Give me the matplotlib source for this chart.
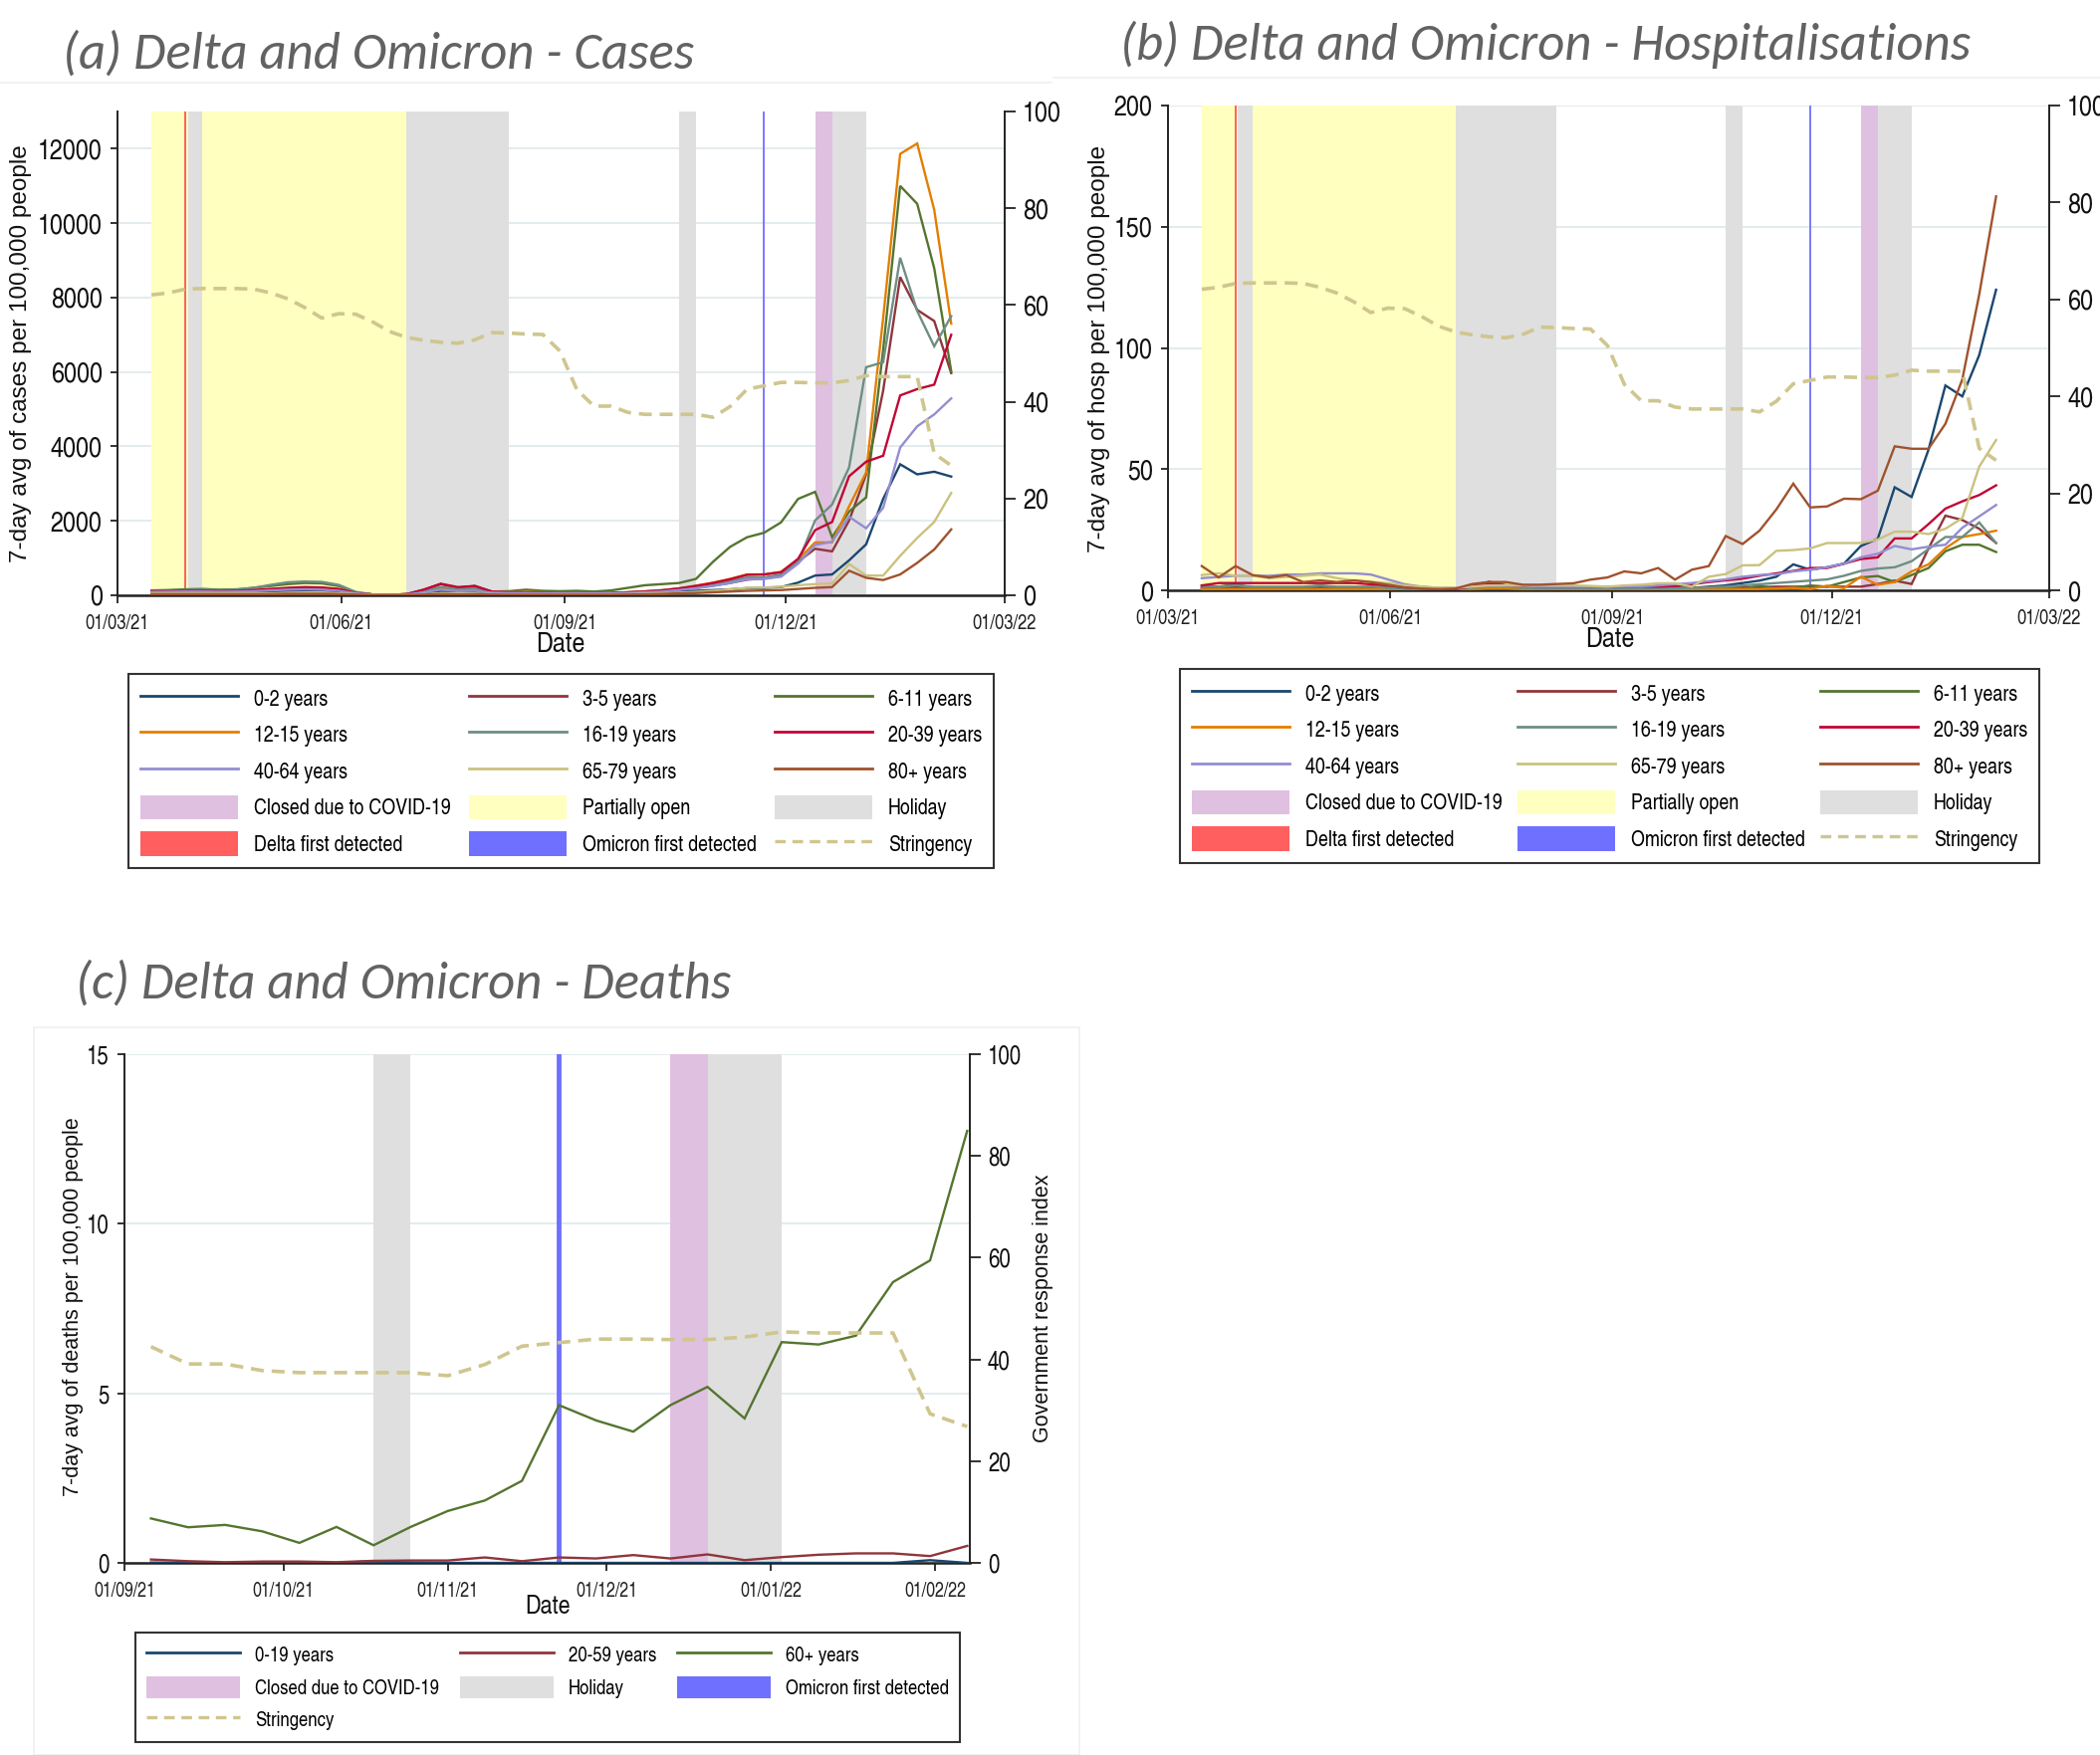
import numpy as np
import pandas as pd
import matplotlib
matplotlib.use('Agg')
import matplotlib.pyplot as plt
import matplotlib.dates as mdates
from matplotlib.patches import Patch, Rectangle
from matplotlib.lines import Line2D

W, H, DPI = 2109, 1763, 100
NARROW = ['TeX Gyre Heros Cn', 'Liberation Sans', 'DejaVu Sans']
REG = ['Liberation Sans', 'DejaVu Sans']
TITLE_FONT = ['Carlito', 'Lato', 'DejaVu Sans']
plt.rcParams['font.family'] = NARROW

# ---------------- data ----------------
dates = pd.date_range('2021-03-15', periods=48, freq='7D')   # weekly (Mondays)
death_dates = dates[25:]                                       # from 06/09/21

case_labels = ['0-2 years', '3-5 years', '6-11 years', '12-15 years', '16-19 years',
               '20-39 years', '40-64 years', '65-79 years', '80+ years']
case_colors = ['#1a476f', '#90353b', '#55752f', '#e37e00', '#6e8e84',
               '#c10534', '#938dd2', '#cac27e', '#a0522d']

cases_0_2 = [90,95,100,95,90,95,100,110,120,130,130,110,50,20,10,20,60,120,110,100,60,50,50,45,
             40,40,40,40,50,60,80,100,120,140,160,190,200,220,340,530,560,940,1370,2590,3520,3250,3320,3190]
cases_3_5 = [110,115,120,120,115,120,130,150,180,200,190,150,60,20,10,30,150,300,200,250,100,80,70,60,
             50,50,50,50,70,90,110,150,200,260,330,420,450,520,900,1250,1180,2010,3250,5500,8550,7670,7370,5970]
cases_6_11 = [130,140,160,170,150,160,200,250,300,330,320,250,80,20,10,30,120,200,160,170,100,110,150,120,
              110,120,100,130,200,270,300,330,440,900,1300,1560,1680,1960,2590,2780,1560,2250,2630,6600,11000,10520,8790,6020]
cases_12_15 = [100,105,110,110,105,110,130,160,190,210,200,160,60,20,10,30,100,200,150,160,90,80,90,80,
               70,60,60,60,80,110,140,190,260,340,440,560,560,630,960,1420,1420,2390,3300,7450,11860,12140,10360,7300]
cases_16_19 = [120,125,140,150,140,150,200,280,350,370,360,280,90,20,10,30,120,220,170,190,90,80,80,70,
               60,60,60,60,80,100,130,180,240,300,380,480,480,560,900,2010,2440,3440,6130,6260,9070,7640,6690,7500]
cases_20_39 = [110,115,120,120,115,120,140,170,200,220,210,170,60,20,10,30,150,310,220,250,100,80,80,70,
               60,60,60,60,80,100,130,180,250,330,430,550,560,620,980,1750,1970,3200,3590,3750,5370,5540,5660,7000]
cases_40_64 = [90,95,100,100,95,100,110,130,150,160,150,120,50,15,10,20,80,150,110,120,70,60,60,55,
               50,50,50,50,60,80,100,140,190,250,330,430,440,500,850,1350,1440,2110,1800,2350,3970,4540,4860,5290]
cases_65_79 = [50,50,50,50,50,50,50,50,60,60,60,50,30,10,5,10,30,50,40,40,30,25,25,25,
               25,25,25,25,30,40,50,70,90,120,160,200,210,230,270,300,320,840,530,530,1060,1540,1970,2750]
cases_80 = [30,30,30,30,30,30,30,30,40,40,40,30,20,5,5,10,20,30,25,25,20,15,15,15,
            15,15,15,15,20,25,35,50,60,80,100,120,130,140,170,200,220,660,470,410,560,870,1230,1770]

hosp_0_2 = [1,1,1.5,1,1,1,1,1.5,1,1,1,0.5,0.5,0.3,0.3,0.5,1,1.5,1,1,0.5,0.5,0.5,0.5,
            0.5,0.5,0.5,0.8,1,1,1.5,2,3,4,5.6,10.7,8.5,9.5,11,18.3,21.3,42.5,38.5,58,84.5,80,97,124]
hosp_3_5 = [1,1,1,1,1,1,1,1,1,1,1,1,0.5,0.3,0.3,0.5,2,3.5,2,2,1,1,1,1,
            1,1,1,1,1,1,1,1,1.2,1.3,1.5,1.5,1.5,1.5,1.5,1.5,2.6,4,2.6,17.3,30.8,29,25.4,19.5]
hosp_6_11 = [2,1.5,2.5,1,1,1,1,2,1,1,1.5,1,0.5,0.3,0.3,0.5,0.5,1,1,0.5,0.5,0.5,0.5,0.5,
             0.5,0.5,0.5,0.5,0.5,1,0.5,1,0.5,2,0.5,1,2,1.5,3.4,5.3,5.9,3.4,6.3,9.2,16.1,18.8,18.8,15.8]
hosp_12_15 = [0.5,0.5,0.5,0.5,0.5,0.5,0.5,0.5,0.5,0.5,0.5,0.5,0.3,0.2,0.2,0.3,0.5,0.8,0.8,0.5,0.5,0.5,0.5,0.5,
              0.5,0.5,0.5,0.5,0.3,0.5,0.5,0.5,0.5,0.5,0.8,1,0.5,1.9,0.9,5.6,2.3,3.4,7.8,10.7,17.3,22,23.2,24.6]
hosp_16_19 = [1.5,1.5,2,1.5,1.5,1.5,1.5,2,1.5,1.5,1.5,1,0.5,0.3,0.3,0.5,1,1.5,1.5,1,0.8,0.8,0.8,0.8,
              0.8,0.8,0.8,0.8,0.8,1,1.2,1.5,2,2.5,3,3.5,4,4.5,6,8,9,9.5,12,17,22,22,28,19.5]
hosp_20_39 = [2,3,3,3,3,3,3,3,3,3,2.5,2,1.2,0.8,0.5,0.5,1.5,2.5,2,2,1.5,1.5,1.5,1.5,
              1.5,1.5,1.5,1.5,1.8,2.5,3.4,4.1,4.8,6,7,8,9.2,9.2,11,12.9,13.6,21.4,21.4,27.3,33.7,36.7,39.3,43.3]
hosp_40_64 = [5,5.5,6,6,6,6.5,6.5,7,7,7,6.5,4.5,2.5,1.5,1,1,1.5,2,2,2,1.5,1.5,1.5,1.5,
              1.5,1.5,1.5,2,2.5,3,3.8,4.5,5.6,6.3,6.6,7.8,8.5,9.5,11,13.6,15.1,18.3,16.9,18,18.8,25.8,30.5,35.2]
hosp_65_79 = [6.3,7,6,6,5,5.5,6,6.5,5,4,3.5,3,2,1.5,1,1,1.5,2,2,2,2,2,2,1.8,
              1.5,2,2.3,2.9,2.9,1.5,5.6,6.7,10.3,10.4,16.3,16.6,17.3,19.5,19.5,19.5,21,24.2,24.2,23.2,25.4,29.8,51,62]
hosp_80 = [10,5.3,10,6.3,5.3,6.3,3.4,4.1,3.4,4.1,3.4,2.3,1.2,0.7,0.5,0.7,2.6,3.4,3.4,2.3,2.3,2.6,2.9,4.4,
           5.3,7.8,7,9.2,4.4,8.5,10,22.4,19.1,24.6,33.4,44,34.2,34.6,37.8,37.6,41.1,59.4,58.4,58.4,68.7,87,122,162.5]

death_labels = ['0-19 years', '20-59 years', '60+ years']
death_colors = ['#1a476f', '#90353b', '#55752f']
deaths_0_19 = [0.01,0.0,0.0,0.01,0.0,0.0,0.05,0.01,0.0,0.0,0.0,0.0,0.0,0.0,0.0,0.0,0.0,0.0,0.0,0.0,0.0,0.08,0.0]
deaths_20_59 = [0.10,0.05,0.02,0.04,0.04,0.02,0.06,0.07,0.07,0.16,0.05,0.16,0.13,0.23,0.13,0.25,0.08,0.17,0.24,0.28,0.28,0.20,0.50]
deaths_60 = [1.31,1.05,1.12,0.93,0.59,1.06,0.52,1.06,1.53,1.84,2.42,4.65,4.2,3.87,4.65,5.19,4.26,6.51,6.44,6.7,8.28,8.92,12.74]

stringency = [62.1,62.5,63.3,63.4,63.4,63.4,63.3,62.5,61.3,59.5,57.3,58.2,58.1,56.5,54.5,53.3,52.7,52.3,52.1,52.8,
              54.3,54.2,54.0,53.9,50.5,42.5,39.1,39.1,37.8,37.4,37.4,37.4,37.4,36.8,39.0,42.6,43.3,44.0,44.0,
              43.9,43.9,44.4,45.4,45.2,45.2,45.2,29.3,26.8]

partial_open = ('2021-03-15', '2021-06-28')
holidays = [('2021-03-30', '2021-04-05'), ('2021-06-28', '2021-08-09'),
            ('2021-10-18', '2021-10-25'), ('2021-12-20', '2022-01-03')]
closed = ('2021-12-13', '2021-12-20')
delta_date = '2021-03-29'
omicron_date = '2021-11-22'

C_YELLOW, C_GRAY, C_PURPLE = '#ffffc0', '#dfdfdf', '#e0c0e0'
C_DELTA, C_OMI, C_STR = '#ff5f5f', '#7070ff', '#cfc68f'
AX_C = '#222222'

fig = plt.figure(figsize=(W / DPI, H / DPI), dpi=DPI)
fig.patch.set_facecolor('white')


def add_ax(l, r, t, b):
    return fig.add_axes([l / W, 1 - b / H, (r - l) / W, (b - t) / H])


def ts(s):
    return pd.Timestamp(s)


def panel(ax, x, ys, cols, ymax, ystep, xlim, xticks, sx, sy, tick_fs, date_fs,
          omi_lw, show_delta=True, show_yellow=True, ytop=None):
    ax.set_xlim(ts(xlim[0]), ts(xlim[1]))
    ax.set_ylim(0, ymax)
    ax.set_axisbelow(True)
    yt = np.arange(0, (ytop if ytop else ymax) + 0.001, ystep)
    ax.set_yticks(yt)
    ax.set_yticklabels([f'{int(v)}' for v in yt])
    ax.yaxis.grid(True, color='#e3ebee', lw=1.4, zorder=0)
    if show_yellow:
        ax.axvspan(ts(partial_open[0]), ts(partial_open[1]), color=C_YELLOW, lw=0, zorder=1)
    for s, e in holidays:
        ax.axvspan(ts(s), ts(e), color=C_GRAY, lw=0, zorder=1)
    ax.axvspan(ts(closed[0]), ts(closed[1]), color=C_PURPLE, lw=0, zorder=1)
    if show_delta:
        ax.axvline(ts(delta_date), color=C_DELTA, lw=1.4, zorder=2)
    ax.axvline(ts(omicron_date), color=C_OMI, lw=omi_lw, zorder=2)
    for y, c in zip(ys, cols):
        ax.plot(x, y, color=c, lw=1.7, zorder=3, solid_joinstyle='miter')
    ax.set_xticks([ts(t) for t in xticks])
    ax.xaxis.set_major_formatter(mdates.DateFormatter('%d/%m/%y'))
    for sp in ['top', 'right']:
        ax.spines[sp].set_visible(False)
    ax.spines['left'].set_color(AX_C)
    ax.spines['left'].set_linewidth(1.4)
    ax.spines['bottom'].set_color(AX_C)
    ax.spines['bottom'].set_linewidth(1.8)
    ax.tick_params(axis='x', direction='out', length=6, width=1.3, color=AX_C,
                   labelsize=date_fs, pad=8, labelcolor='#222222')
    ax.tick_params(axis='y', direction='out', length=5, width=1.3, color=AX_C,
                   labelsize=tick_fs, pad=6, labelcolor='#111111')
    ax2 = ax.twinx()
    ax2.set_ylim(0, 100)
    ax2.plot(sx, sy, color=C_STR, lw=2.6, dashes=(3.6, 2.2), zorder=4)
    ax2.set_yticks(np.arange(0, 101, 20))
    for sp in ['top', 'left', 'bottom']:
        ax2.spines[sp].set_visible(False)
    ax2.spines['right'].set_color(AX_C)
    ax2.spines['right'].set_linewidth(1.4)
    ax2.tick_params(axis='y', direction='out', length=8, width=1.3, color=AX_C,
                    labelsize=tick_fs, pad=5, labelcolor='#111111')
    return ax2


def legend_handles(labels, colors):
    return [Line2D([], [], color=c, lw=2.0, label=l) for l, c in zip(labels, colors)]


P_CLOSED = Patch(facecolor=C_PURPLE, edgecolor='none', label='Closed due to COVID-19')
P_PART = Patch(facecolor=C_YELLOW, edgecolor='none', label='Partially open')
P_HOL = Patch(facecolor=C_GRAY, edgecolor='none', label='Holiday')
P_DELTA = Patch(facecolor=C_DELTA, edgecolor='none', label='Delta first detected')
P_OMI = Patch(facecolor=C_OMI, edgecolor='none', label='Omicron first detected')
L_STR = Line2D([], [], color=C_STR, lw=2.4, dashes=(3.2, 2.0), label='Stringency')

LEG_FS = 15.7


def big_legend(l, r, t, b):
    hs = legend_handles(case_labels, case_colors)
    rows = [hs[0:3], hs[3:6], hs[6:9], [P_CLOSED, P_PART, P_HOL], [P_DELTA, P_OMI, L_STR]]
    ordered = [rows[rr][cc] for cc in range(3) for rr in range(5)]
    fpx = LEG_FS * DPI / 72
    leg = fig.legend(handles=ordered, ncol=3, mode='expand', loc='upper left',
                     bbox_to_anchor=(l / W, 1 - b / H, (r - l) / W, (b - t) / H),
                     bbox_transform=fig.transFigure, fontsize=LEG_FS, handlelength=98 / fpx,
                     handleheight=30 / fpx, labelspacing=11.7 / fpx, handletextpad=16 / fpx,
                     borderpad=12 / fpx, borderaxespad=0, columnspacing=0.8,
                     frameon=True, fancybox=False, edgecolor='#333333', framealpha=1)
    leg.get_frame().set_linewidth(1.5)
    return leg


ax_a = add_ax(118, 1009, 112, 598)
panel(ax_a, dates, [cases_0_2, cases_3_5, cases_6_11, cases_12_15, cases_16_19,
                    cases_20_39, cases_40_64, cases_65_79, cases_80], case_colors,
      13000, 2000, ('2021-03-01', '2022-03-01'),
      ['2021-03-01', '2021-06-01', '2021-09-01', '2021-12-01', '2022-03-01'],
      dates, stringency, 20.5, 14.5, 1.3, ytop=12000)

ax_b = add_ax(1173, 2058, 106, 593)
panel(ax_b, dates, [hosp_0_2, hosp_3_5, hosp_6_11, hosp_12_15, hosp_16_19,
                    hosp_20_39, hosp_40_64, hosp_65_79, hosp_80], case_colors,
      200, 50, ('2021-03-01', '2022-03-01'),
      ['2021-03-01', '2021-06-01', '2021-09-01', '2021-12-01', '2022-03-01'],
      dates, stringency, 20.5, 14.5, 1.3)

ax_c = add_ax(125, 974, 1059, 1570)
panel(ax_c, death_dates, [deaths_0_19, deaths_20_59, deaths_60], death_colors,
      15, 5, ('2021-09-01', '2022-02-07 12:00'),
      ['2021-09-01', '2021-10-01', '2021-11-01', '2021-12-01', '2022-01-01', '2022-02-01'],
      death_dates, stringency[25:], 18, 14, 3.5, show_delta=False, show_yellow=False)

tkw = dict(ha='left', va='center', style='italic', color='#626262', family=TITLE_FONT)
fig.text(63 / W, 1 - 54 / H, '(a) Delta and Omicron - Cases', fontsize=38, **tkw)
fig.text(1125 / W, 1 - 45 / H, '(b) Delta and Omicron - Hospitalisations', fontsize=38, **tkw)
fig.text(76 / W, 1 - 988 / H, '(c) Delta and Omicron - Deaths', fontsize=38, **tkw)

ykw = dict(rotation=90, ha='center', va='center', family=REG, color='#111111')
fig.text(21 / W, 1 - 355 / H, '7-day avg of cases per 100,000 people', fontsize=17.5, **ykw)
fig.text(1104 / W, 1 - 350 / H, '7-day avg of hosp per 100,000 people', fontsize=17.5, **ykw)
fig.text(74 / W, 1 - 1313 / H, '7-day avg of deaths per 100,000 people', fontsize=15.5, **ykw)
fig.text(1048 / W, 1 - 1314 / H, 'Government response index', fontsize=15.5, **ykw)

dkw = dict(ha='center', va='center', color='#111111')
fig.text(563 / W, 1 - 648 / H, 'Date', fontsize=20.5, **dkw)
fig.text(1617 / W, 1 - 643 / H, 'Date', fontsize=20.5, **dkw)
fig.text(550 / W, 1 - 1614 / H, 'Date', fontsize=19, **dkw)

big_legend(129, 998, 677, 898)
big_legend(1185, 2048, 672, 892)

LEG_C = 14.7
fpx = LEG_C * DPI / 72
dh = legend_handles(death_labels, death_colors)
ordered_c = [dh[0], P_CLOSED, L_STR, dh[1], P_HOL, dh[2], P_OMI]
leg_c = fig.legend(handles=ordered_c, ncol=3, mode='expand', loc='upper left',
                   bbox_to_anchor=(136 / W, 1 - 1763 / H, (964 - 136) / W, (1763 - 1640) / H),
                   bbox_transform=fig.transFigure, fontsize=LEG_C, handlelength=94 / fpx,
                   handleheight=27 / fpx, labelspacing=10 / fpx, handletextpad=15 / fpx,
                   borderpad=11 / fpx, borderaxespad=0, columnspacing=0.8,
                   frameon=True, fancybox=False, edgecolor='#333333', framealpha=1)
leg_c.get_frame().set_linewidth(1.5)

fig.add_artist(Line2D([0, 1056 / W], [1 - 83 / H, 1 - 83 / H], color='#f0f0f0', lw=1.2))
fig.add_artist(Line2D([1058 / W, 1], [1 - 78 / H, 1 - 78 / H], color='#f0f0f0', lw=1.2))
fig.add_artist(Rectangle((34 / W, 0), (1084 - 34) / W, (1763 - 1032) / H, transform=fig.transFigure,
                         fill=False, edgecolor='#f0f0f0', lw=1.2))

fig.savefig('out.png', dpi=DPI, facecolor='white')
